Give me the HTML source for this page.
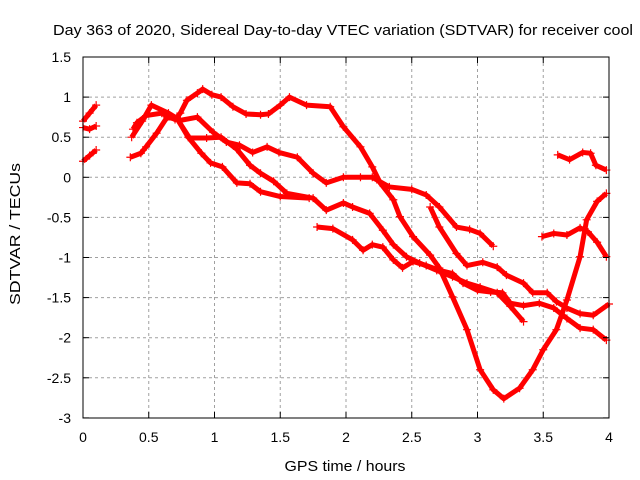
<!DOCTYPE html>
<html><head><meta charset="utf-8"><style>
body{margin:0;background:#fff}
svg{display:block;font-family:"Liberation Sans",sans-serif}
</style></head><body>
<svg id="chart" width="640" height="480">
<text x="53" y="35" font-size="15" textLength="580" lengthAdjust="spacingAndGlyphs" fill="#000">Day 363 of 2020, Sidereal Day-to-day VTEC variation (SDTVAR) for receiver cool</text>
<text transform="translate(20,234) rotate(-90)" text-anchor="middle" font-size="15" textLength="142" lengthAdjust="spacingAndGlyphs">SDTVAR / TECUs</text>
<text x="345" y="471" text-anchor="middle" font-size="15" textLength="121" lengthAdjust="spacingAndGlyphs">GPS time / hours</text>
<g id="grid"></g>
<g id="series"></g>
<rect x="83" y="57" width="526" height="361" fill="none" stroke="#000"/>
<g id="ticks"></g>
</svg>
<script>
const xTicks=[0,0.5,1,1.5,2,2.5,3,3.5,4];
const xTickLabels=["0","0.5","1","1.5","2","2.5","3","3.5","4"];
const yTicks=[1.5,1,0.5,0,-0.5,-1,-1.5,-2,-2.5,-3];
const yTickLabels=["1.5","1","0.5","0","-0.5","-1","-1.5","-2","-2.5","-3"];
const s0a=[[0,0.7],[0.05,0.8],[0.1,0.9]];
const s0b=[[0,0.62],[0.05,0.6],[0.1,0.64]];
const s0c=[[0,0.2],[0.05,0.27],[0.1,0.34]];
const s1=[[0.38,0.6],[0.41,0.68],[0.48,0.77],[0.6,0.8],[0.7,0.72],[0.74,0.8],[0.79,0.96],[0.87,1.05],[0.91,1.1],[0.98,1.03],[1.05,1.0],[1.14,0.88],[1.24,0.79],[1.35,0.78],[1.41,0.79],[1.5,0.9],[1.57,1.0],[1.7,0.9],[1.88,0.88],[1.98,0.63],[2.11,0.38],[2.2,0.13],[2.26,-0.07],[2.36,-0.28],[2.41,-0.49],[2.51,-0.74],[2.64,-0.97],[2.71,-1.13],[2.81,-1.49],[2.92,-1.9],[3.02,-2.4],[3.12,-2.65],[3.2,-2.76],[3.32,-2.63],[3.42,-2.4],[3.5,-2.15],[3.6,-1.9],[3.68,-1.53],[3.78,-0.99],[3.83,-0.53],[3.91,-0.3],[3.98,-0.2]];
const s2=[[0.37,0.5],[0.45,0.7],[0.52,0.9],[0.65,0.8],[0.74,0.71],[0.87,0.75],[0.99,0.56],[1.09,0.44],[1.19,0.4],[1.29,0.31],[1.4,0.38],[1.49,0.31],[1.63,0.25],[1.75,0.05],[1.85,-0.07],[1.98,0.0],[2.11,0.0],[2.2,0.0],[2.33,-0.12],[2.5,-0.15],[2.61,-0.22],[2.71,-0.37],[2.84,-0.62],[2.94,-0.65],[3.02,-0.7],[3.12,-0.86]];
const s3=[[0.36,0.25],[0.44,0.3],[0.48,0.38],[0.56,0.55],[0.64,0.75],[0.72,0.72],[0.81,0.49],[0.94,0.49],[1.05,0.5],[1.17,0.35],[1.27,0.15],[1.35,0.05],[1.45,-0.05],[1.55,-0.2],[1.75,-0.26],[1.85,-0.41],[1.98,-0.32],[2.05,-0.37],[2.18,-0.45],[2.28,-0.66],[2.36,-0.84],[2.46,-0.99],[2.56,-1.07],[2.69,-1.16],[2.81,-1.24],[2.92,-1.32],[3.02,-1.37],[3.15,-1.44],[3.25,-1.61],[3.35,-1.8]];
const s4=[[0.6,0.8],[0.72,0.72],[0.8,0.5],[0.9,0.3],[0.97,0.18],[1.06,0.13],[1.17,-0.07],[1.27,-0.08],[1.35,-0.18],[1.5,-0.24],[1.72,-0.26]];
const s5=[[1.78,-0.62],[1.9,-0.64],[2.05,-0.78],[2.13,-0.91],[2.2,-0.84],[2.28,-0.87],[2.36,-1.03],[2.43,-1.13],[2.51,-1.05],[2.61,-1.1],[2.71,-1.16],[2.81,-1.2],[2.89,-1.32],[3.0,-1.41],[3.1,-1.43],[3.19,-1.44],[3.25,-1.57],[3.35,-1.6],[3.47,-1.57],[3.58,-1.63],[3.68,-1.76],[3.78,-1.88],[3.88,-1.9],[3.98,-2.03]];
const s6=[[2.64,-0.37],[2.71,-0.62],[2.84,-0.95],[2.92,-1.1],[3.04,-1.06],[3.15,-1.12],[3.22,-1.22],[3.35,-1.32],[3.42,-1.44],[3.53,-1.44],[3.6,-1.55],[3.68,-1.63],[3.78,-1.7],[3.88,-1.72],[4.0,-1.58]];
const s7=[[3.61,0.28],[3.7,0.22],[3.8,0.31],[3.86,0.3],[3.9,0.15],[3.98,0.09]];
const s8=[[3.49,-0.74],[3.58,-0.7],[3.68,-0.72],[3.78,-0.63],[3.84,-0.68],[3.91,-0.81],[3.98,-0.99]];
const allSeries=[s0a,s0b,s0c,s1,s2,s3,s4,s5,s6,s7,s8];
const NS="http://www.w3.org/2000/svg";
const X=v=>83+v*131.5, Y=v=>177.3-v*80.2;
const grid=document.getElementById('grid'), ticks=document.getElementById('ticks'), ser=document.getElementById('series');
function mk(tag,attrs,parent){const e=document.createElementNS(NS,tag);for(const k in attrs)e.setAttribute(k,attrs[k]);parent.appendChild(e);return e;}
xTicks.forEach((t,i)=>{const x=X(t);
 if(i>0&&i<xTicks.length-1){const g=mk('line',{x1:x,x2:x,y1:57,y2:418,stroke:'#a0a0a0','stroke-dasharray':'3,3'},grid);
 
 }
 mk('line',{x1:x,x2:x,y1:418,y2:412,stroke:'#000'},ticks);
 mk('line',{x1:x,x2:x,y1:57,y2:63,stroke:'#000'},ticks);
 const l=mk('text',{x:x,y:442,'text-anchor':'middle','font-size':14},ticks);l.textContent=xTickLabels[i];
 
 });
yTicks.forEach((t,i)=>{const y=Y(t);
 if(i>0&&i<yTicks.length-1){const g=mk('line',{x1:83,x2:609,y1:y,y2:y,stroke:'#a0a0a0','stroke-dasharray':'3,3'},grid);
 
 }
 mk('line',{x1:83,x2:89,y1:y,y2:y,stroke:'#000'},ticks);
 mk('line',{x1:609,x2:603,y1:y,y2:y,stroke:'#000'},ticks);
 const l=mk('text',{x:71,y:y+5,'text-anchor':'end','font-size':14},ticks);l.textContent=yTickLabels[i];
 
 });
allSeries.forEach((s,si)=>{
 const pl=mk('polyline',{points:s.map(p=>X(p[0])+','+Y(p[1])).join(' '),fill:'none',stroke:'#ff0000','stroke-width':5,'stroke-linejoin':'round'},ser);
 
 
 s.forEach(p=>{const x=X(p[0]),y=Y(p[1]);
  const m=mk('path',{d:`M${x-4},${y}H${x+4}M${x},${y-4}V${y+4}`,stroke:'#ff0000','stroke-width':1.2},ser);
  
  });
});
</script>
</body></html>
